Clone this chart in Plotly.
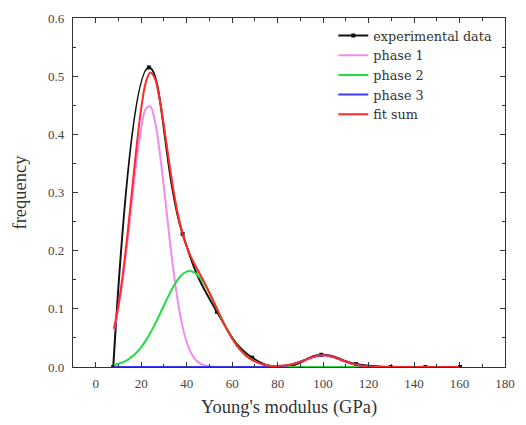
import plotly.graph_objects as go

# Experimental histogram of Young's modulus
exp_x = [7.7, 23.4, 38.2, 53.3, 68.8, 84.0, 99.2, 114.4, 129.7, 145.0, 160.2]
exp_y = [0.0, 0.515, 0.229, 0.095, 0.016, 0.001, 0.021, 0.005, 0.0, 0.0, 0.0]

# Grid on which the fitted components are drawn
fit_x = [8, 10, 12, 14, 16, 18, 20, 22, 24, 26, 28, 30, 32, 34, 36, 38, 40,
         42, 44, 46, 48, 50, 52, 54, 56, 58, 60, 62, 64, 66, 68, 70, 72, 74,
         76, 78, 80, 84, 88, 92, 96, 100, 104, 108, 112, 116, 120, 124, 128,
         132, 136, 140, 144, 148, 152, 156, 160]

phase1 = [0.0625, 0.1013, 0.1533, 0.2170, 0.2871, 0.3551, 0.4105, 0.4436,
          0.4481, 0.4232, 0.3735, 0.3082, 0.2377, 0.1714, 0.1155, 0.0728,
          0.0428, 0.0236, 0.0121, 0.0058, 0.0026, 0.0011, 0.0004, 0.0, 0.0,
          0.0, 0.0, 0.0, 0.0, 0.0, 0.0, 0.0, 0.0, 0.0, 0.0, 0.0, 0.0, 0.0,
          0.0, 0.0, 0.0, 0.0, 0.0, 0.0, 0.0, 0.0, 0.0, 0.0, 0.0, 0.0, 0.0,
          0.0, 0.0, 0.0, 0.0, 0.0, 0.0]

phase2 = [0.0035, 0.0055, 0.0084, 0.0124, 0.0179, 0.0250, 0.0341, 0.0453,
          0.0584, 0.0732, 0.0893, 0.1059, 0.1222, 0.1371, 0.1497, 0.1589,
          0.1640, 0.1647, 0.1609, 0.1528, 0.1412, 0.1269, 0.1109, 0.0943,
          0.0779, 0.0627, 0.0490, 0.0373, 0.0276, 0.0198, 0.0139, 0.0095,
          0.0063, 0.0040, 0.0025, 0.0015, 0.0009, 0.0003, 0.0, 0.0, 0.0,
          0.0, 0.0, 0.0, 0.0, 0.0, 0.0, 0.0, 0.0, 0.0, 0.0, 0.0, 0.0, 0.0,
          0.0, 0.0, 0.0]

phase3 = [0.0, 0.0, 0.0, 0.0, 0.0, 0.0, 0.0, 0.0, 0.0, 0.0, 0.0, 0.0, 0.0,
          0.0, 0.0, 0.0, 0.0, 0.0, 0.0, 0.0, 0.0, 0.0, 0.0, 0.0, 0.0, 0.0,
          0.0, 0.0, 0.0, 0.0, 0.0, 0.0, 0.0, 0.0, 0.0, 0.0, 0.0009, 0.0027,
          0.0065, 0.0121, 0.0177, 0.0200, 0.0177, 0.0121, 0.0065, 0.0027,
          0.0009, 0.0002, 0.0, 0.0, 0.0, 0.0, 0.0, 0.0, 0.0, 0.0, 0.0]

fit_sum = [0.0660, 0.1068, 0.1617, 0.2294, 0.3050, 0.3801, 0.4446, 0.4889,
           0.5065, 0.4964, 0.4628, 0.4141, 0.3599, 0.3085, 0.2652, 0.2317,
           0.2068, 0.1883, 0.1730, 0.1586, 0.1438, 0.1280, 0.1113, 0.0943,
           0.0779, 0.0627, 0.0490, 0.0373, 0.0276, 0.0198, 0.0139, 0.0095,
           0.0063, 0.0040, 0.0025, 0.0015, 0.0018, 0.0030, 0.0065, 0.0121,
           0.0177, 0.0200, 0.0177, 0.0121, 0.0065, 0.0027, 0.0009, 0.0002,
           0.0, 0.0, 0.0, 0.0, 0.0, 0.0, 0.0, 0.0, 0.0]

x_ticks = [0, 20, 40, 60, 80, 100, 120, 140, 160, 180]
y_ticks = [0.0, 0.1, 0.2, 0.3, 0.4, 0.5, 0.6]

FONT = "Liberation Serif"
LEGEND_FONT = "DejaVu Serif"

fig = go.Figure()
fig.add_trace(go.Scatter(
    x=exp_x, y=exp_y, name="experimental data", mode="lines+markers",
    line=dict(color="#111111", width=2, shape="spline", smoothing=1.3),
    marker=dict(symbol="square", size=4, color="#111111")))
fig.add_trace(go.Scatter(
    x=fit_x, y=phase1, name="phase 1", mode="lines",
    line=dict(color="#f08cf0", width=2, shape="spline")))
fig.add_trace(go.Scatter(
    x=fit_x, y=phase2, name="phase 2", mode="lines",
    line=dict(color="#22dd44", width=2, shape="spline")))
fig.add_trace(go.Scatter(
    x=fit_x, y=phase3, name="phase 3", mode="lines",
    line=dict(color="#3a3aff", width=2, shape="spline")))
fig.add_trace(go.Scatter(
    x=fit_x, y=fit_sum, name="fit sum", mode="lines",
    line=dict(color="#ff2a2a", width=2, shape="spline")))

axis_common = dict(
    showline=True, linecolor="#333333", linewidth=1.3, mirror="ticks",
    ticks="inside", ticklen=5, tickwidth=1.2, tickcolor="#333333",
    showgrid=False, zeroline=False,
    tickfont=dict(family=FONT, size=13, color="#444444"),
)

fig.update_xaxes(
    range=[-10, 180], tickmode="array", tickvals=x_ticks,
    ticktext=[str(v) for v in x_ticks], ticklabelstandoff=4,
    minor=dict(ticks="inside", ticklen=3, dtick=10, tick0=0,
               tickcolor="#333333", showgrid=False),
    title=dict(text="Young's modulus (GPa)",
               font=dict(family=FONT, size=18.5, color="#333333"), standoff=10),
    **axis_common)
fig.update_yaxes(
    range=[0, 0.6], tickmode="array", tickvals=y_ticks,
    ticktext=[f"{v:.1f}" for v in y_ticks], ticklabelstandoff=5,
    minor=dict(ticks="inside", ticklen=3, dtick=0.05, tick0=0,
               tickcolor="#333333", showgrid=False),
    title=dict(text="frequency",
               font=dict(family=FONT, size=18.5, color="#333333"), standoff=16),
    **axis_common)

fig.update_layout(
    width=526, height=425,
    margin=dict(l=73, r=11, t=14, b=56),
    paper_bgcolor="white", plot_bgcolor="white",
    font=dict(family=FONT, color="#333333"),
    legend=dict(x=0.6025, y=0.992, xanchor="left", yanchor="top",
                bgcolor="rgba(0,0,0,0)", borderwidth=0,
                font=dict(family=LEGEND_FONT, size=12.8, color="#333333"),
                tracegroupgap=0, itemwidth=30),
    showlegend=True,
)

fig.write_html("out.html")
